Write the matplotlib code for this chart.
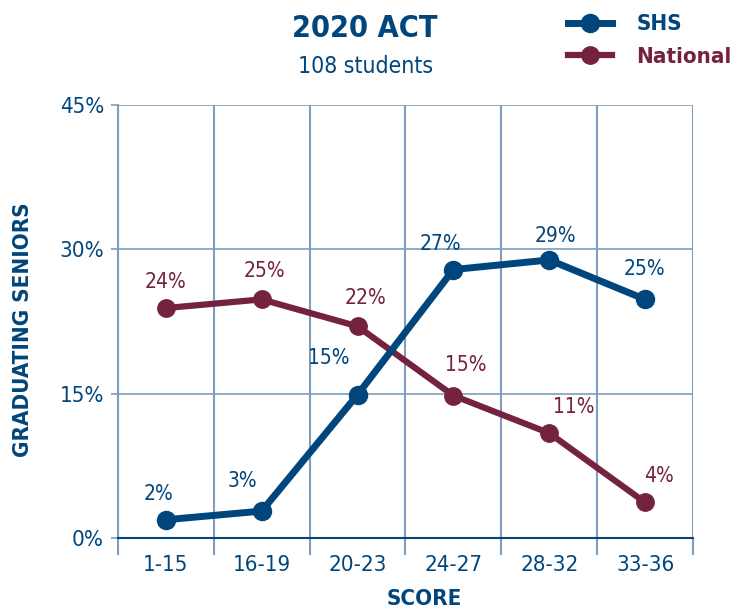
import matplotlib
matplotlib.use("Agg")
import matplotlib.pyplot as plt
from matplotlib.ticker import FixedLocator

scores = ["1-15", "16-19", "20-23", "24-27", "28-32", "33-36"]
shs = [1.9, 2.8, 14.9, 27.9, 28.9, 24.8]
national = [23.9, 24.8, 22.0, 14.8, 10.9, 3.7]
shs_labels = ["2%", "3%", "15%", "27%", "29%", "25%"]
national_labels = ["24%", "25%", "22%", "15%", "11%", "4%"]
y_ticks = [0, 15, 30, 45]

blue = "#00467C"
maroon = "#74223D"
grid = "#7F9DBC"

plt.rcParams["font.family"] = ["DejaVu Sans"]
plt.rcParams["font.stretch"] = "condensed"

fig = plt.figure(figsize=(7.5, 6.13), dpi=100)
ax = fig.add_axes([0.1573, 0.1223, 0.7667, 0.7064])

x = list(range(len(scores)))
ax.plot(x, shs, color=blue, lw=5, marker="o", ms=13, label="SHS", zorder=4)
ax.plot(x, national, color=maroon, lw=4.5, marker="o", ms=12.5, label="National", zorder=3)

# data labels, nudged like the original
shs_off = [(-7, 26), (-19, 30), (-29, 37), (-13, 26), (6, 24), (-1, 30)]
nat_off = [(0, 26), (3, 28), (8, 28), (12, 31), (25, 26), (14, 26)]
for i in x:
    ax.annotate(shs_labels[i], (i, shs[i]), xytext=shs_off[i], textcoords="offset pixels",
                ha="center", va="center", color=blue, fontsize=15)
    ax.annotate(national_labels[i], (i, national[i]), xytext=nat_off[i], textcoords="offset pixels",
                ha="center", va="center", color=maroon, fontsize=15)

ax.set_xlim(-0.5, 5.5)
ax.set_ylim(0, 45)
ax.set_xticks(x)
ax.set_xticklabels(scores)
ax.xaxis.set_minor_locator(FixedLocator([i - 0.5 for i in range(len(scores) + 1)]))
ax.tick_params(axis="x", which="major", length=0, pad=12, labelsize=16, labelcolor=blue)
ax.tick_params(axis="x", which="minor", length=12, width=1.5, color=grid)
ax.set_yticks(y_ticks)
ax.set_yticklabels([f"{v}%" for v in y_ticks])
ax.tick_params(axis="y", length=5, width=1.2, color=grid, pad=5, labelsize=16, labelcolor=blue)
ax.yaxis.get_major_ticks()[0].tick1line.set_color(blue)

ax.grid(axis="x", which="minor", color=grid, lw=1.5)
ax.grid(axis="y", which="major", color=grid, lw=1.2)
for s in ["top", "right"]:
    ax.spines[s].set_visible(False)
ax.spines["left"].set_color(grid)
ax.spines["left"].set_linewidth(1.5)
ax.spines["bottom"].set_color(blue)
ax.spines["bottom"].set_linewidth(1.5)
ax.spines["bottom"].set_zorder(2.5)

ax.set_xlabel("SCORE", fontsize=16, fontweight="bold", color=blue)
ax.xaxis.set_label_coords(0.532, -0.118)
ax.set_ylabel("GRADUATING SENIORS", fontsize=16, fontweight="bold", color=blue)
ax.yaxis.set_label_coords(-0.148, 0.48)

fig.text(0.487, 0.953, "2020 ACT", ha="center", va="center", fontsize=22, fontweight="bold", color=blue)
fig.text(0.487, 0.892, "108 students", ha="center", va="center", fontsize=16.5, color=blue)

leg = ax.legend(loc="center left", bbox_to_anchor=(0.73, 0.934), bbox_transform=fig.transFigure,
                frameon=False, handlelength=2.0, handletextpad=1.1, labelspacing=0.55,
                prop={"weight": "bold", "size": 16}, labelcolor="linecolor")

fig.savefig("out.png", dpi=100)
